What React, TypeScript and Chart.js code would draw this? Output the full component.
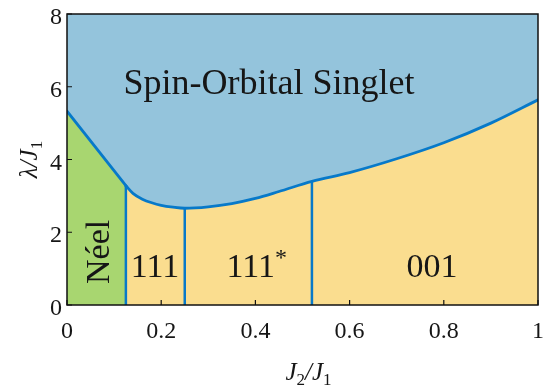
import React, { useEffect, useRef } from "react";
import { Chart, registerables } from "chart.js";

Chart.register(...registerables);

// Phase boundary lambda_c(J2/J1): straight Néel part and curved part
const neelBoundaryX = [0, 0.125];
const neelBoundaryY = [5.33, 3.28];
const singletBoundaryX = [0.125, 0.14, 0.16, 0.18, 0.2, 0.225, 0.25, 0.3, 0.35, 0.4, 0.45, 0.52, 0.6, 0.7, 0.8, 0.9, 1.0];
const singletBoundaryY = [3.28, 3.07, 2.91, 2.81, 2.74, 2.69, 2.66, 2.70, 2.79, 2.93, 3.12, 3.40, 3.64, 4.02, 4.46, 5.0, 5.64];

// vertical phase boundaries (x, top)
const verticalX = [0.125, 0.25, 0.52];
const verticalTop = [3.28, 2.66, 3.40];

const xTicks = [0, 0.2, 0.4, 0.6, 0.8, 1];
const xTickLabels = ["0", "0.2", "0.4", "0.6", "0.8", "1"];
const yTicks = [0, 2, 4, 6, 8];
const yTickLabels = ["0", "2", "4", "6", "8"];

// region labels
const regionNames = ["Spin-Orbital Singlet", "Néel", "111", "111", "001"];
const regionX = [0.429, 0.064, 0.187, 0.39, 0.775];
const regionY = [6.1, 1.46, 1.1, 1.1, 1.1];

const BLUE = "#94c4dc";
const GREEN = "#a8d670";
const YELLOW = "#fadd8f";
const LINE = "#0779c9";
const SERIF = '"Liberation Serif"';

type Run = { t: string; it?: boolean; size: number; dy?: number };

function fnt(r: Run) {
  return `${r.it ? "italic " : ""}${r.size}px ${SERIF}`;
}

function runsWidth(ctx: CanvasRenderingContext2D, runs: Run[]) {
  let w = 0;
  for (const r of runs) {
    ctx.font = fnt(r);
    w += ctx.measureText(r.t).width;
  }
  return w;
}

function drawRuns(ctx: CanvasRenderingContext2D, runs: Run[], cx: number, cy: number, rot: number) {
  ctx.save();
  ctx.translate(cx, cy);
  ctx.rotate(rot);
  const w = runsWidth(ctx, runs);
  let x = -w / 2;
  ctx.textBaseline = "alphabetic";
  ctx.textAlign = "left";
  for (const r of runs) {
    ctx.font = fnt(r);
    ctx.fillText(r.t, x, r.dy || 0);
    x += ctx.measureText(r.t).width;
  }
  ctx.restore();
}

const bgPlugin = {
  id: "singletBg",
  beforeDatasetsDraw(chart: any) {
    const ctx: CanvasRenderingContext2D = chart.ctx;
    const a = chart.chartArea;
    ctx.save();
    ctx.fillStyle = BLUE;
    ctx.fillRect(a.left, a.top, a.right - a.left, a.bottom - a.top);
    ctx.restore();
  },
};

const decorPlugin = {
  id: "decor",
  afterDatasetsDraw(chart: any) {
    const ctx: CanvasRenderingContext2D = chart.ctx;
    const xs = chart.scales.x;
    const ys = chart.scales.y;
    const a = chart.chartArea;
    ctx.save();
    ctx.fillStyle = "#161616";
    ctx.strokeStyle = "#111";

    // region labels
    const lbl = 34;
    drawRuns(ctx, [{ t: regionNames[0], size: 36 }], xs.getPixelForValue(regionX[0]), ys.getPixelForValue(regionY[0]) + 11, 0);
    drawRuns(ctx, [{ t: regionNames[1], size: lbl }], xs.getPixelForValue(regionX[1]) + 12, ys.getPixelForValue(regionY[1]), -Math.PI / 2);
    drawRuns(ctx, [{ t: regionNames[2], size: lbl }], xs.getPixelForValue(regionX[2]), ys.getPixelForValue(regionY[2]) + 12, 0);
    drawRuns(ctx, [{ t: regionNames[3], size: lbl }, { t: "*", size: 24, dy: -12 }], xs.getPixelForValue(regionX[3]) + 6, ys.getPixelForValue(regionY[3]) + 12, 0);
    drawRuns(ctx, [{ t: regionNames[4], size: lbl }], xs.getPixelForValue(regionX[4]), ys.getPixelForValue(regionY[4]) + 12, 0);

    // frame
    ctx.lineWidth = 1.5;
    ctx.strokeRect(a.left, a.top, a.right - a.left, a.bottom - a.top);

    // inward ticks
    ctx.lineWidth = 1.2;
    ctx.beginPath();
    for (const v of xTicks) {
      const p = xs.getPixelForValue(v);
      ctx.moveTo(p, a.bottom);
      ctx.lineTo(p, a.bottom - 5);
    }
    for (const v of yTicks) {
      const p = ys.getPixelForValue(v);
      ctx.moveTo(a.left, p);
      ctx.lineTo(a.left + 5, p);
    }
    ctx.stroke();

    // tick labels
    ctx.font = `24px ${SERIF}`;
    ctx.textBaseline = "alphabetic";
    ctx.textAlign = "center";
    xTicks.forEach((v, i) => {
      ctx.fillText(xTickLabels[i], xs.getPixelForValue(v), a.bottom + 33);
    });
    ctx.textAlign = "right";
    yTicks.forEach((v, i) => {
      ctx.fillText(yTickLabels[i], a.left - 5, ys.getPixelForValue(v) + 10);
    });

    // axis titles
    drawRuns(
      ctx,
      [
        { t: "J", it: true, size: 25 },
        { t: "2", size: 17, dy: 5 },
        { t: "/", it: true, size: 25 },
        { t: "J", it: true, size: 25 },
        { t: "1", size: 17, dy: 5 },
      ],
      (a.left + a.right) / 2 + 6,
      380,
      0
    );
    drawRuns(
      ctx,
      [
        { t: "λ", it: true, size: 25 },
        { t: "/", it: true, size: 25 },
        { t: "J", it: true, size: 25 },
        { t: "1", size: 17, dy: 5 },
      ],
      37,
      (a.top + a.bottom) / 2,
      -Math.PI / 2
    );
    ctx.restore();
  },
};

function pts(xs: number[], ys: number[]) {
  return xs.map((x, i) => ({ x, y: ys[i] }));
}

export default function App() {
  const ref = useRef<HTMLCanvasElement | null>(null);
  useEffect(() => {
    if (!ref.current) return;
    const neel = pts(neelBoundaryX, neelBoundaryY);
    const singlet = pts(singletBoundaryX, singletBoundaryY);
    const base = { showLine: true, pointRadius: 0, pointHoverRadius: 0 };
    const datasets: any[] = [
      { ...base, data: neel, fill: "origin", backgroundColor: GREEN, borderWidth: 0, tension: 0, order: 4 },
      { ...base, data: singlet, fill: "origin", backgroundColor: YELLOW, borderWidth: 0, cubicInterpolationMode: "monotone", order: 4 },
      ...verticalX.map((x, i) => ({
        ...base,
        data: [
          { x, y: 0 },
          { x, y: verticalTop[i] },
        ],
        fill: false,
        borderColor: LINE,
        borderWidth: 2.5,
        order: 2,
      })),
      { ...base, data: neel, fill: false, borderColor: LINE, borderWidth: 2.8, tension: 0, order: 1, borderCapStyle: "round" },
      { ...base, data: singlet, fill: false, borderColor: LINE, borderWidth: 2.8, cubicInterpolationMode: "monotone", order: 1, borderCapStyle: "round" },
    ];
    const chart = new Chart(ref.current, {
      type: "scatter",
      data: { datasets },
      options: {
        responsive: false,
        animation: false,
        devicePixelRatio: 1,
        layout: { padding: { top: 14, right: 7, left: 0, bottom: 0 } },
        plugins: { legend: { display: false }, tooltip: { enabled: false } },
        scales: {
          x: {
            type: "linear",
            min: 0,
            max: 1,
            ticks: { display: false },
            grid: { display: false },
            border: { display: false },
            afterFit: (s: any) => {
              s.height = 82;
            },
          },
          y: {
            type: "linear",
            min: 0,
            max: 8,
            ticks: { display: false },
            grid: { display: false },
            border: { display: false },
            afterFit: (s: any) => {
              s.width = 67;
            },
          },
        },
      } as any,
      plugins: [bgPlugin, decorPlugin],
    });
    return () => {
      chart.destroy();
    };
  }, []);
  return (
    <div style={{ position: "fixed", left: 0, top: 0, width: 545, height: 387, background: "#fff" }}>
      <canvas ref={ref} width={545} height={387} />
    </div>
  );
}
